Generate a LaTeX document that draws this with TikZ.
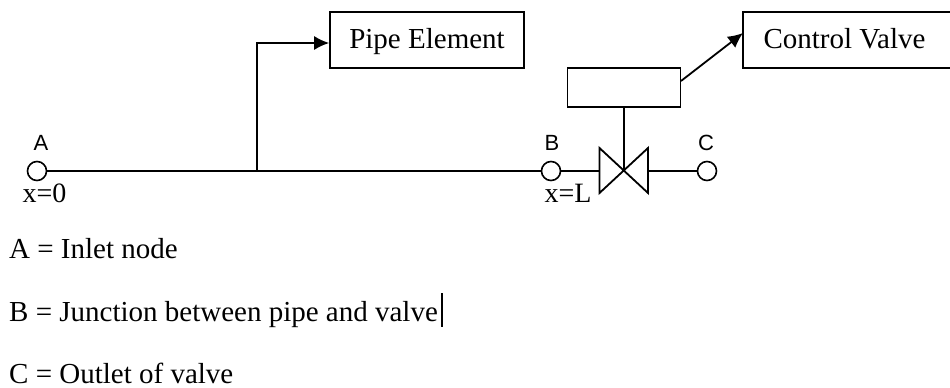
\documentclass[tikz,border=0pt]{standalone}
\usepackage{fontspec}
\setmainfont{Liberation Serif}
\setsansfont{Liberation Sans}
\usetikzlibrary{arrows.meta}
\begin{document}
\begin{tikzpicture}[x=1pt,y=-1pt]
  \tikzset{pipenode/.style={circle,draw=black,fill=white,line width=1.6pt,inner sep=0pt,minimum size=19pt}}
  \tikzset{infobox/.style={rectangle,draw=black,line width=1.6pt,inner sep=0pt,text height=20pt,text depth=4pt,font=\fontsize{29}{32}\selectfont}}
  \tikzset{pipeline/.style={draw=black,line width=1.8pt}}
  \tikzset{pipearrow/.style={pipeline,-{Latex[length=15pt,width=14pt]}}}
  \tikzset{nodelabel/.style={inner sep=0pt,anchor=base,font=\sffamily\fontsize{22}{24}\selectfont}}
  \tikzset{xlabel/.style={inner sep=0pt,anchor=base,font=\fontsize{28}{32}\selectfont}}
  \tikzset{keytext/.style={inner sep=0pt,anchor=base west,font=\fontsize{29}{32}\selectfont}}
  \useasboundingbox (0,0) rectangle (950,388);

  \node[pipenode] (a) at (37,171) {};
  \node[pipenode] (b) at (551,171) {};
  \node[pipenode] (c) at (707,171) {};
  \coordinate (vc) at (624,171);
  \coordinate (vl) at (599.5,148);
  \coordinate (vr) at (648,148);
  \coordinate (vlb) at (599.5,193);
  \coordinate (vrb) at (648,193);
  \coordinate (tee) at (257,171);
  \coordinate (bend) at (257,43);

  \node[infobox,minimum width=194pt,minimum height=56pt] (pipeel) at (427,40) {Pipe Element};
  \node[infobox,minimum width=215pt,minimum height=56pt] (ctrl) at (850.5,40) {Control Valve\kern12pt};
  \node[infobox,minimum width=113pt,minimum height=39pt] (act) at (624,87.5) {};
  \coordinate (acttail) at (681,81);
  \coordinate (ctrlin) at (743,33);

  \draw[pipeline] (a) -- (tee) -- (b);
  \draw[pipeline] (b) -- (vl |- vc);
  \draw[pipeline] (vr |- vc) -- (c);
  \draw[pipeline,line join=miter] (vl) -- (vrb) -- (vr) -- (vlb) -- cycle;
  \draw[pipeline] (act) -- (vc);
  \draw[pipearrow] (tee) -- (bend) -- (bend -| pipeel.west);
  \draw[pipearrow] (acttail) -- (ctrlin);

  \node[nodelabel] (la) at (41,150) {A};
  \node[nodelabel] (lb) at (552,150) {B};
  \node[nodelabel] (lc) at (706,150) {C};
  \node[xlabel] (lx0) at (44.5,202) {x=0};
  \node[xlabel] (lxl) at (568,202) {x=L};

  \node[keytext] (ka) at (9,258) {A = Inlet node};
  \node[keytext] (kb) at (9,321) {B = Junction between pipe and valve};
  \node[keytext] (kc) at (9,383) {C = Outlet of valve};
  \coordinate (curtop) at (442,293);
  \coordinate (curbot) at (442,327);
  \draw[pipeline] (curtop) -- (curbot);
\end{tikzpicture}
\end{document}
